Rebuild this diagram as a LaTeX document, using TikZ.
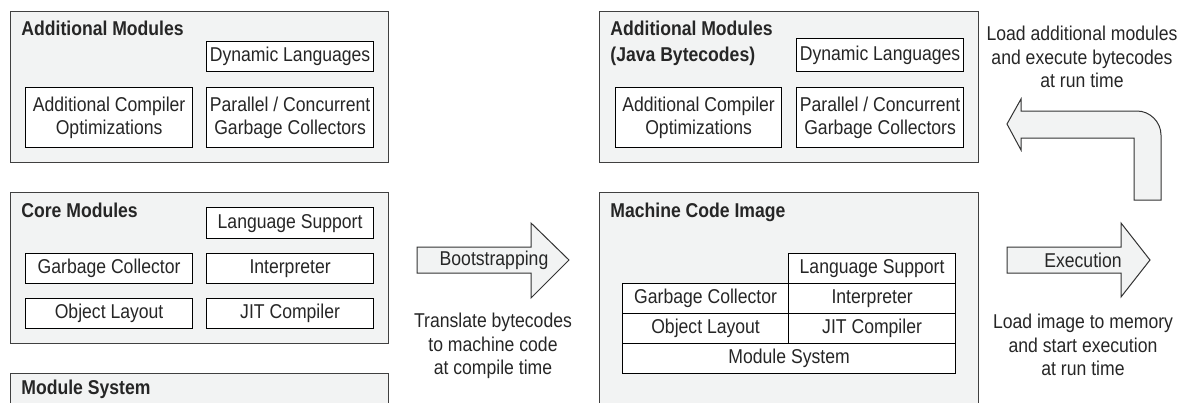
\documentclass[tikz,border=0pt]{standalone}
\usepackage{fontspec}
\setmainfont[FakeStretch=0.88]{Liberation Sans}
\usetikzlibrary{positioning}
\definecolor{panelgrey}{RGB}{242,243,243}
\tikzstyle{panel}=[draw=black!75, fill=panelgrey, line width=0.6pt, anchor=north west, inner sep=0pt, minimum width=189pt]
\tikzstyle{box}=[draw=black, fill=white, line width=0.6pt, anchor=north west, inner sep=0pt, align=center, minimum width=83.5pt, minimum height=15pt]
\tikzstyle{title}=[anchor=base west, inner sep=0pt, font=\bfseries]
\tikzstyle{blockarrow}=[draw=black!80, fill=panelgrey, line width=0.5pt, line join=miter]
\tikzstyle{note}=[anchor=north, align=center, inner sep=0pt]

\begin{document}
\begin{tikzpicture}[x=0.5pt, y=-0.5pt, font=\fontsize{10}{11.75}\selectfont, text=black!85]
        \useasboundingbox (0,0) rectangle (1179,402);
        %
        % bytecode side
        \node[panel, minimum height=75.5pt] (addl) at (10,11) {};
        \node[title] (addlt) at (21,35) {Additional Modules};
        \node[box] (dynl) at (206,41) {Dynamic Languages};
        \node[box, minimum height=30pt] (optl) at (25,87) {Additional Compiler\\Optimizations};
        \node[box, minimum height=30pt] (pgcl) at (206,87) {Parallel / Concurrent\\Garbage Collectors};
        %
        \node[panel, minimum height=75.5pt] (corel) at (10,192) {};
        \node[title] (corelt) at (21,217) {Core Modules};
        \node[box, minimum height=15.5pt] (langl) at (206,207) {Language Support};
        \node[box] (gcl) at (25,253) {Garbage Collector};
        \node[box] (intl) at (206,253) {Interpreter};
        \node[box] (objl) at (25,298) {Object Layout};
        \node[box] (jitl) at (206,298) {JIT Compiler};
        %
        \node[panel, minimum height=16pt] (modl) at (10,373) {};
        \node[title] (modlt) at (21,394) {Module System};
        %
        % bootstrapping
        \draw[blockarrow] (417,247) -- (531,247) -- (531,223) -- (569,260) -- (531,298) -- (531,273) -- (417,273) -- cycle;
        \node (boot) at (494,260) {Bootstrapping};
        \node[note] (bootnote) at (493,313) {Translate bytecodes\\to machine code\\at compile time};
        %
        % image side
        \node[panel, minimum width=189.5pt, minimum height=75.5pt] (addr) at (599,11) {};
        \node[title] (addrt) at (610,35) {Additional Modules};
        \node[title] (addrs) at (610,61) {(Java Bytecodes)};
        \node[box, minimum height=16.5pt] (dynr) at (796,38) {Dynamic Languages};
        \node[box, minimum width=83pt, minimum height=30pt] (optr) at (615,87) {Additional Compiler\\Optimizations};
        \node[box, minimum height=30pt] (pgcr) at (796,87) {Parallel / Concurrent\\Garbage Collectors};
        %
        \node[panel, minimum width=189.5pt, minimum height=106.5pt] (mci) at (599,192) {};
        \node[title] (mcit) at (610,217) {Machine Code Image};
        \node[box] (langr) at (788,253) {Language Support};
        \node[box, minimum width=83pt] (gcr) at (622,283) {Garbage Collector};
        \node[box] (intr) at (788,283) {Interpreter};
        \node[box, minimum width=83pt] (objr) at (622,313) {Object Layout};
        \node[box] (jitr) at (788,313) {JIT Compiler};
        \node[box, minimum width=166.5pt] (modr) at (622,343) {Module System};
        %
        % execution
        \draw[blockarrow] (1007,247) -- (1121,247) -- (1121,223) -- (1150,260) -- (1121,297) -- (1121,273) -- (1007,273) -- cycle;
        \node (exec) at (1083,260) {Execution};
        \node[note] (execnote) at (1083,314) {Load image to memory\\and start execution\\at run time};
        %
        \draw[blockarrow] (1007,124) -- (1021,99) -- (1021,111) -- (1137,111)
          .. controls (1150,111) and (1161,122) .. (1161,135) -- (1161,200) -- (1134,200)
          -- (1134,138) -- (1021,138) -- (1021,150) -- cycle;
        \node[note] (loadnote) at (1082,26) {Load additional modules\\and execute bytecodes\\at run time};
      \end{tikzpicture}
\end{document}
